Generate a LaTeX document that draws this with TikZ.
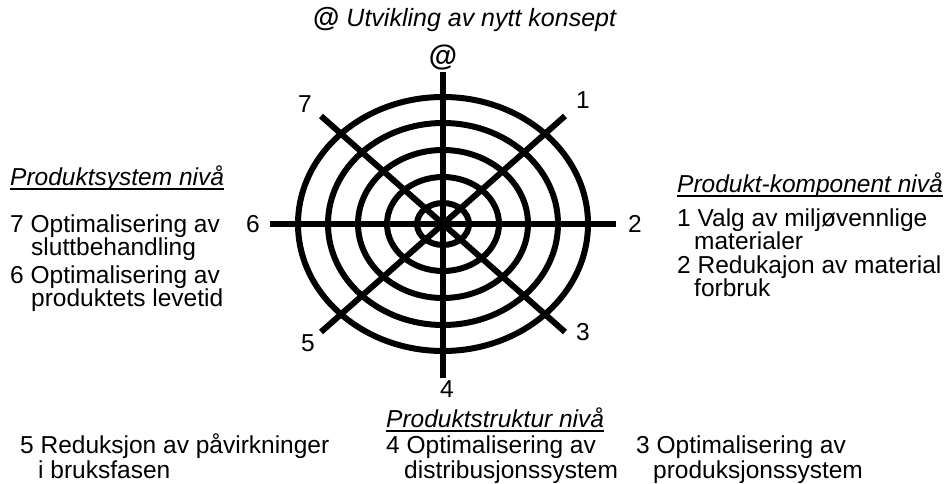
\documentclass[tikz,border=0pt]{standalone}
\usepackage{fontspec}
\setmainfont{Liberation Sans}
\begin{document}
\begin{tikzpicture}[x=1pt, y=-1pt,
  web/.style={line width=6pt},
  txt/.style={anchor=base west, inner sep=0pt, font=\fontsize{24.5}{24.5}\selectfont},
  num/.style={inner sep=0pt, font=\fontsize{24.5}{24.5}\selectfont},
  atsym/.style={inner sep=0pt, font=\bfseries\fontsize{29}{29}\selectfont},
  uline/.style={line width=1.5pt}]

  \useasboundingbox (0,0) rectangle (944,484);

  % --- 1. 中心と放射線の端点 ---
  \coordinate (hub) at (443,224);
  \coordinate (s0) at (443,72);
  \coordinate (s4) at (443,378);
  \coordinate (s6) at (270,224);
  \coordinate (s2) at (616,224);
  \coordinate (s7) at (321,116);
  \coordinate (s3) at (565,332);
  \coordinate (s1) at (565,116);
  \coordinate (s5) at (321,332);

  % --- 2. 同心の楕円 (5本) ---
  \foreach \rx/\ry in {26/21, 56/47, 85/74, 115/101, 145/127}
    \draw[web] (hub) ellipse [x radius=\rx, y radius=\ry];

  % --- 3. 放射線 ---
  \draw[web] (s6) -- (s2);
  \draw[web] (s0) -- (s4);
  \draw[web] (s7) -- (s3);
  \draw[web] (s1) -- (s5);

  % --- 4. 放射線の番号 ---
  \node[atsym] (nAt) at (443,58) {@};
  \node[num] (n1) at (583,100) {1};
  \node[num] (n2) at (635,224) {2};
  \node[num] (n3) at (583,332) {3};
  \node[num] (n4) at (447,389) {4};
  \node[num] (n5) at (308,343) {5};
  \node[num] (n6) at (253,224) {6};
  \node[num] (n7) at (305,104) {7};

  % --- 5. 上のタイトル ---
  \node[txt, font=\fontsize{25}{25}\selectfont] (tittel) at (313,27)
    {{\bfseries\fontsize{27}{27}\selectfont @} \textit{Utvikling av nytt konsept}};

  % --- 6. 左: Produktsystem ---
  \node[txt] (hodeV) at (10,185) {\textit{Produktsystem nivå}};
  \draw[uline] ([yshift=-4pt]hodeV.base west) -- ([yshift=-4pt]hodeV.base east);
  \node[txt] (v7a) at (10,232) {7 Optimalisering av};
  \node[txt] (v7b) at (31,255) {sluttbehandling};
  \node[txt] (v6a) at (10,283) {6 Optimalisering av};
  \node[txt] (v6b) at (31,306) {produktets levetid};

  % --- 7. 右: Produkt-komponent ---
  \node[txt] (hodeH) at (677,192) {\textit{Produkt-komponent nivå}};
  \draw[uline] ([yshift=-4pt]hodeH.base west) -- ([yshift=-4pt]hodeH.base east);
  \node[txt] (h1a) at (677,226) {1 Valg av miljøvennlige};
  \node[txt] (h1b) at (694,249) {materialer};
  \node[txt] (h2a) at (677,273) {2 Redukajon av material};
  \node[txt] (h2b) at (694,296) {forbruk};

  % --- 8. 下: Produktstruktur ---
  \node[txt] (hodeN) at (386,427) {\textit{Produktstruktur nivå}};
  \draw[uline] ([yshift=-4pt]hodeN.base west) -- ([yshift=-4pt]hodeN.base east);
  \node[txt] (b5a) at (20,453) {5 Reduksjon av påvirkninger};
  \node[txt] (b5b) at (38,478) {i bruksfasen};
  \node[txt] (b4a) at (386,453) {4 Optimalisering av};
  \node[txt] (b4b) at (404,478) {distribusjonssystem};
  \node[txt] (b3a) at (636,453) {3 Optimalisering av};
  \node[txt] (b3b) at (653,478) {produksjonssystem};

\end{tikzpicture}
\end{document}
